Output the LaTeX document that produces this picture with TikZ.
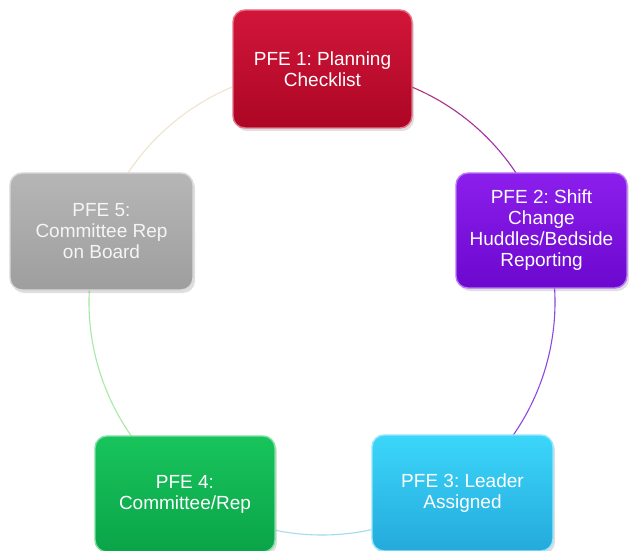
\documentclass[tikz,border=0pt]{standalone}
\usepackage{fontspec}
\setmainfont{Liberation Sans}
\usetikzlibrary{shadows}
\frenchspacing

% box colours (top / bottom of the glossy fill)
\definecolor{redT}{RGB}{210,22,58}
\definecolor{redB}{RGB}{172,6,36}
\definecolor{purT}{RGB}{140,30,236}
\definecolor{purB}{RGB}{108,8,206}
\definecolor{cyaT}{RGB}{60,214,250}
\definecolor{cyaB}{RGB}{36,170,220}
\definecolor{grnT}{RGB}{24,196,92}
\definecolor{grnB}{RGB}{10,164,72}
\definecolor{gryT}{RGB}{182,182,182}
\definecolor{gryB}{RGB}{158,158,158}
% ring colours at each end of the arcs
\definecolor{ringA}{RGB}{190,45,85}
\definecolor{ringB}{RGB}{150,50,210}
\definecolor{ringC}{RGB}{140,70,225}
\definecolor{ringD}{RGB}{160,215,235}
\definecolor{ringE}{RGB}{170,225,235}
\definecolor{ringF}{RGB}{170,235,170}
\definecolor{ringG}{RGB}{160,232,160}
\definecolor{ringH}{RGB}{240,228,200}
\definecolor{ringI}{RGB}{238,230,215}

\tikzset{
  pfebox/.style={
    rounded corners=12pt, minimum width=#1, align=center,
    text=white, font=\fontsize{19}{21}\selectfont,
    drop shadow={opacity=0.25, shadow xshift=2pt, shadow yshift=-3pt},
  },
  rim/.style={draw=#1, line width=1.4pt},
}

\begin{document}
\begin{tikzpicture}[x=1pt,y=1pt]
  \useasboundingbox (0,0) rectangle (629,550);
  \fill[white] (0,0) rectangle (629,550);

  % centre of the ring
  \coordinate (c) at (322,248);

  % ring arcs, each blended from one end colour to the other
  \foreach \a/\b/\ca/\cb in {90/18/ringA/ringB, 18/-54/ringC/ringC,
      -54/-126/ringD/ringE, -126/-198/ringF/ringG, 162/90/ringH/ringI}{
    \foreach \k in {0,...,23}{
      \pgfmathsetmacro\s{\a+(\b-\a)*\k/24}
      \pgfmathsetmacro\e{\a+(\b-\a)*(\k+1)/24}
      \pgfmathsetmacro\p{100-100*\k/23}
      \draw[line width=1.1pt, \ca!\p!\cb]
        (c) ++(\s:233pt) arc[start angle=\s, end angle=\e, radius=233pt];
    }
  }

  % the five steps
  \node[pfebox=179pt, minimum height=118pt, top color=redT, bottom color=redB,
        rim=redT!60!white] (n1) at (322.5,481) {PFE 1: Planning\\Checklist};
  \node[pfebox=171pt, minimum height=115pt, top color=purT, bottom color=purB,
        rim=purT!60!white] (n2) at (541.5,319.5)
        {PFE 2: Shift\\Change\\Huddles/Bedside\\Reporting};
  \node[pfebox=181pt, minimum height=116pt, top color=cyaT, bottom color=cyaB,
        rim=cyaT!55!white] (n3) at (462.5,57) {PFE 3: Leader\\Assigned};
  \node[pfebox=180pt, minimum height=116pt, top color=grnT, bottom color=grnB,
        rim=grnT!55!white] (n4) at (185,56) {PFE 4:\\Committee/Rep};
  \node[pfebox=183pt, minimum height=117pt, top color=gryT, bottom color=gryB,
        rim=gryT!50!white, text=white!92!gray] (n5) at (101.5,318.5)
        {PFE 5:\\Committee Rep\\on Board};
\end{tikzpicture}
\end{document}
